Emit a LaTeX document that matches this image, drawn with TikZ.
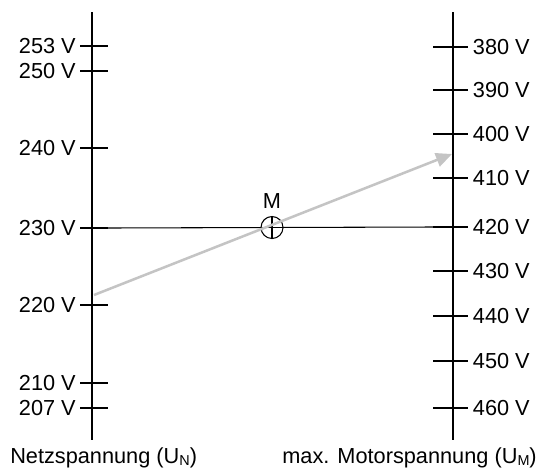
\documentclass[tikz,border=0pt]{standalone}
\usepackage{fontspec}
\setmainfont{Liberation Sans}
\usetikzlibrary{arrows.meta}
\definecolor{pointer}{HTML}{C4C4C4}
\newcommand{\idx}[1]{\raisebox{-2pt}{\fontsize{10.8}{11}\selectfont #1}}
\begin{document}
\begin{tikzpicture}[x=0.75pt,y=-0.75pt,
  axis/.style={line width=0.8pt,black},
  tick/.style={line width=0.8pt,black},
  lbl/.style={font=\fontsize{16.3}{19}\selectfont,inner sep=0pt},
  llbl/.style={lbl,anchor=east,xshift=-3pt},
  rlbl/.style={lbl,anchor=west,xshift=3.5pt},
  pointerline/.style={draw=pointer,line width=1.9pt,
    -{Triangle[length=12pt,width=10.5pt]}}]
\useasboundingbox (0,0) rectangle (539,469);

% the two scales
\coordinate (Ltop) at (92,12);  \coordinate (Lbot) at (92,440);
\coordinate (Rtop) at (453,12); \coordinate (Rbot) at (453,440);
\draw[axis] (Ltop) -- (Lbot);
\draw[axis] (Rtop) -- (Rbot);

% mains voltage ticks (left)
\foreach \v/\y in {253/46,250/71,240/148,230/228,220/305,210/383,207/408}{
  \coordinate (L\v a) at (80,\y);
  \coordinate (L\v b) at (108,\y);
  \draw[tick] (L\v a) -- (L\v b);
  \node[llbl] (nL\v) at (L\v a) {\v\ V};
}

% motor voltage ticks (right)
\foreach \v/\y in {380/47,390/90,400/134,410/178,420/227,430/271,440/316,450/361,460/408}{
  \coordinate (R\v a) at (433,\y);
  \coordinate (R\v b) at (468,\y);
  \draw[tick] (R\v a) -- (R\v b);
  \node[rlbl] (nR\v) at (R\v b) {\v\ V};
}

% reference line 230 V -- 420 V
\draw[tick] (L230b) -- (R420a);

% pivot point M
\node[circle,draw,line width=0.8pt,minimum size=16.5pt,inner sep=0pt,fill=white] (M) at (272,227.5) {};
\draw[line width=0.8pt] (M.north) -- (M.south);
\draw[line width=0.8pt] (M.west) -- (M.east);
\node[lbl] (Mlbl) at (272,201) {M};

% reading: 220 V mains through M
\coordinate (p0) at (94,295);
\coordinate (p1) at (452,154);
\draw[pointerline] (p0) -- (p1);

% scale captions
\node[lbl,anchor=base west] (capL) at (10,463) {Netzspannung (U\idx{N})};
\node[lbl,anchor=base east] (capR) at (537,463) {max. Motorspannung (U\idx{M})};
\end{tikzpicture}
\end{document}
